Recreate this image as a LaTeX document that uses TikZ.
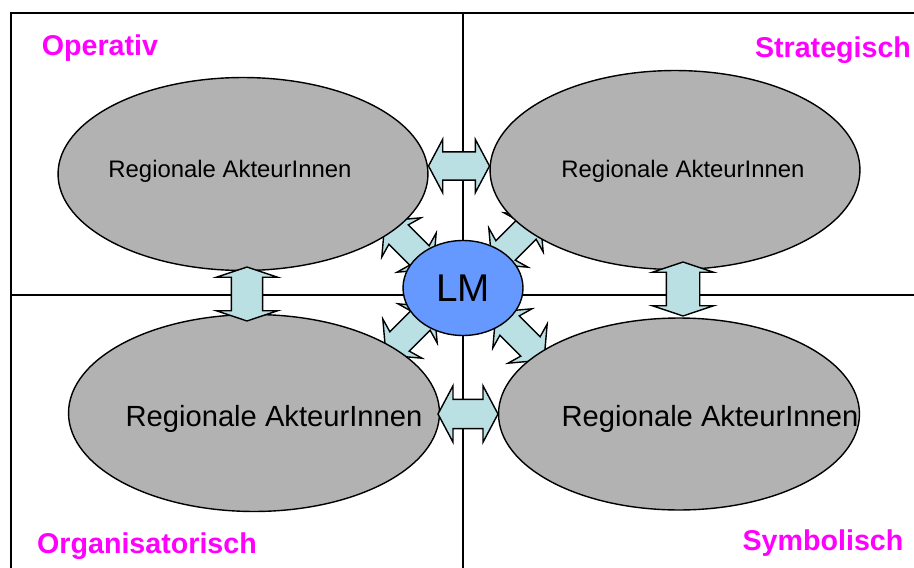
\documentclass[tikz,border=0pt]{standalone}
\usepackage{fontspec}
\setmainfont{Liberation Sans}
\usetikzlibrary{shapes.geometric,shapes.arrows}
\definecolor{feldgrau}{HTML}{B2B2B2}
\definecolor{pfeilblau}{HTML}{BBE0E3}
\definecolor{lmblau}{HTML}{6699FF}
\definecolor{feldmagenta}{HTML}{FF00FF}

\begin{document}
\begin{tikzpicture}[x=0.02cm,y=-0.02cm]
    \tikzstyle{akteur}=[ellipse,draw,thick,fill=feldgrau,inner sep=0pt]
    \tikzstyle{dpfeil}=[double arrow,draw,thick,fill=pfeilblau,inner xsep=0pt]
    \tikzstyle{diagpfeil}=[dpfeil,minimum height=1.36cm,inner ysep=0.26cm,
           double arrow head extend=0.28cm,double arrow tip angle=100,
           double arrow head indent=0.08cm]
    \tikzstyle{feld}=[text=feldmagenta,font=\fontsize{16.3}{19}\selectfont\bfseries]
    \tikzstyle{klein}=[font=\fontsize{13.6}{16}\selectfont]
    \tikzstyle{gross}=[font=\fontsize{16.6}{19}\selectfont]

    \useasboundingbox (0,0) rectangle (914,568);

    % Rahmen und Achsen
    \draw [semithick] (11,568) -- (11,13) -- (914,13);
    \draw [semithick] (463,13) -- (463,568);
    \draw [semithick] (11,295) -- (914,295);

    % Diagonale Pfeile (unter den Ellipsen)
    \node [diagpfeil,rotate=-45] (ptl) at (409,245) {};
    \node [diagpfeil,rotate=45]  (ptr) at (516,240) {};
    \node [diagpfeil,rotate=45]  (pbl) at (410,331) {};
    \node [diagpfeil,rotate=-45] (pbr) at (520,336) {};

    % Regionale AkteurInnen
    \node [akteur,minimum width=7.4cm,minimum height=3.86cm] (tl) at (243,174) {};
    \node [akteur,minimum width=7.4cm,minimum height=3.98cm] (tr) at (675,170) {};
    \node [akteur,minimum width=7.42cm,minimum height=3.94cm] (bl) at (254,413) {};
    \node [akteur,minimum width=7.22cm,minimum height=3.84cm] (br) at (679,414) {};

    \node [klein] (tltext) at (230,171) {Regionale AkteurInnen};
    \node [klein] (trtext) at (683,171) {Regionale AkteurInnen};
    \node [gross] (bltext) at (274,419) {Regionale AkteurInnen};
    \node [gross] (brtext) at (710,419) {Regionale AkteurInnen};

    % Pfeile zwischen den Ellipsen
    \node [dpfeil,minimum height=1.22cm,inner ysep=0.27cm,
           double arrow head extend=0.25cm,double arrow tip angle=124] (poben) at (459,166) {};
    \node [dpfeil,minimum height=1.2cm,inner ysep=0.28cm,
           double arrow head extend=0.27cm,double arrow tip angle=124] (punten) at (468,414) {};
    \node [dpfeil,rotate=90,minimum height=1.08cm,inner ysep=0.3cm,
           double arrow head extend=0.3cm,double arrow tip angle=143] (plinks) at (247,294) {};
    \node [dpfeil,rotate=90,minimum height=1.08cm,inner ysep=0.32cm,
           double arrow head extend=0.28cm,double arrow tip angle=143] (prechts) at (683,289) {};

    % LM in der Mitte
    \node [ellipse,draw,thick,fill=lmblau,inner sep=0pt,minimum width=2.4cm,
           minimum height=1.9cm,font=\fontsize{22}{25}\selectfont] (lm) at (463,288) {LM};

    % Felder
    \node [feld] (operativ) at (100,48) {Operativ};
    \node [feld] (strategisch) at (833,50) {Strategisch};
    \node [feld] (organisatorisch) at (147,546) {Organisatorisch};
    \node [feld] (symbolisch) at (823,543) {Symbolisch};
\end{tikzpicture}
\end{document}
